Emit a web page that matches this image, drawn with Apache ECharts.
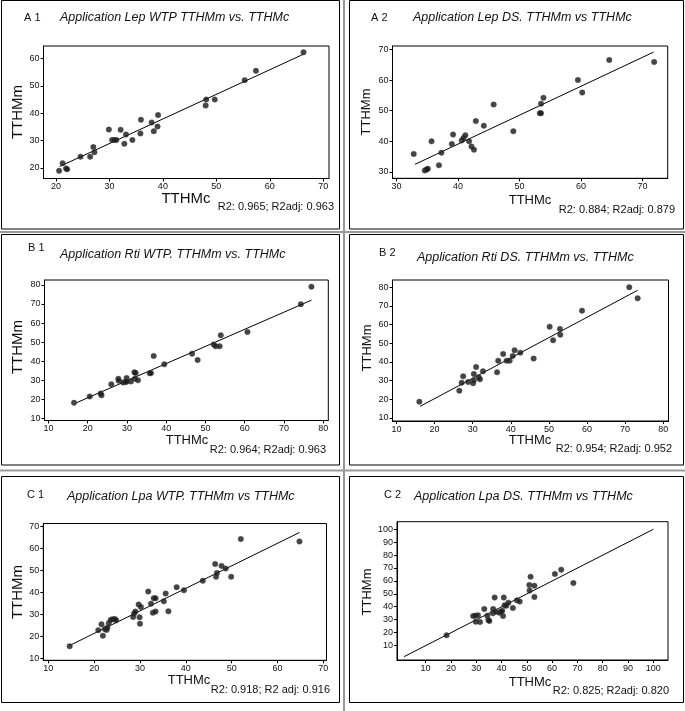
<!DOCTYPE html>
<html>
<head>
<meta charset="utf-8">
<script src="https://cdn.jsdelivr.net/npm/echarts@6/dist/echarts.min.js"></script>
<style>
html,body{margin:0;padding:0;background:#fff;}
#chart{width:685px;height:711px;}
</style>
</head>
<body>
<div id="chart"></div>
<script>
// ---------- DATA ----------
const panelLabels = ['A 1','A 2','B 1','B 2','C 1','C 2'];
const panelTitles = [
  'Application Lep WTP TTHMm vs. TTHMc',
  'Application Lep DS. TTHMm vs TTHMc',
  'Application Rti WTP. TTHMm vs. TTHMc',
  'Application Rti DS. TTHMm vs. TTHMc',
  'Application Lpa WTP. TTHMm vs TTHMc',
  'Application Lpa DS. TTHMm vs TTHMc'
];
const fitTexts = [
  'R2: 0.965; R2adj: 0.963',
  'R2: 0.884; R2adj: 0.879',
  'R2: 0.964; R2adj: 0.963',
  'R2: 0.954; R2adj: 0.952',
  'R2: 0.918; R2 adj: 0.916',
  'R2: 0.825; R2adj: 0.820'
];
const xAxisName = 'TTHMc';
const yAxisName = 'TTHMm';

const a1Points = [[20.6,18.9],[21.25,21.7],[21.9,19.8],[22.1,19.5],[24.6,24.1],[26.4,24.1],[27.0,27.6],[27.2,25.7],
  [29.9,34.0],[30.5,30.2],[30.9,30.2],[31.3,30.2],[32.1,33.9],[32.8,28.8],[33.1,32.2],[34.3,30.2],[35.8,32.6],
  [35.9,37.6],[37.9,36.6],[38.3,33.4],[39.0,35.1],[39.1,39.3],[48.0,42.8],[48.1,45.0],[49.7,45.0],[55.3,52.1],
  [57.4,55.5],[66.3,62.3]];
const a1Fit = [[20.7,20.5],[66.3,61.6]];
const a1XTicks = [20,30,40,50,60,70];
const a1YTicks = [20,30,40,50,60];

const a2Points = [[32.8,35.9],[34.6,30.5],[34.9,30.8],[35.1,31.1],[35.7,40.0],[36.9,32.2],[37.3,36.3],[39.0,39.1],
  [39.2,42.2],[40.6,40.3],[40.9,41.1],[41.2,42.0],[41.8,40.0],[42.2,38.3],[42.6,37.3],[42.9,46.6],[44.2,45.1],
  [45.8,52.0],[49.0,43.3],[53.3,49.2],[53.5,49.2],[53.5,52.3],[53.9,54.2],[59.5,60.0],[60.2,55.9],[64.6,66.5],
  [71.9,65.9]];
const a2Fit = [[33.0,32.5],[71.8,69.1]];
const a2XTicks = [30,40,50,60,70];
const a2YTicks = [30,40,50,60,70];

const b1Points = [[16.5,18.1],[20.5,21.4],[23.3,23.0],[23.5,22.0],[26.0,27.8],[27.8,30.7],[27.9,29.7],[29.0,28.8],
  [29.6,29.0],[29.9,31.1],[29.9,29.2],[31.0,29.3],[31.9,34.1],[32.2,33.7],[32.0,30.7],[32.8,29.9],[35.8,33.6],
  [36.1,33.7],[36.8,42.7],[39.5,38.3],[46.6,43.9],[48.0,40.6],[52.1,48.7],[52.6,47.8],[53.6,47.8],[53.9,53.6],
  [60.7,55.3],[74.3,69.9],[77.0,79.1]];
const b1Fit = [[17.1,18.1],[77.0,72.0]];
const b1XTicks = [10,20,30,40,50,60,70,80];
const b1YTicks = [10,20,30,40,50,60,70,80];

const b2Points = [[16.0,18.75],[26.5,24.6],[27.1,28.9],[27.5,32.3],[28.8,29.3],[30.1,28.6],[30.3,33.6],[30.3,30.2],
  [30.9,37.3],[31.6,31.8],[31.9,30.7],[32.7,35.0],[36.4,34.5],[36.7,40.7],[38.0,44.3],[38.9,40.7],[39.7,40.7],
  [40.5,43.2],[41.0,46.25],[42.5,45.0],[46.0,41.8],[50.2,58.9],[51.1,51.6],[52.9,57.7],[53.0,54.6],[58.7,67.5],
  [71.1,80.0],[73.3,74.1]];
const b2Fit = [[16.2,16.25],[73.3,78.4]];
const b2XTicks = [10,20,30,40,50,60,70,80];
const b2YTicks = [10,20,30,40,50,60,70,80];

const c1Points = [[14.65,15.5],[20.9,22.8],[21.6,25.5],[21.9,20.3],[22.3,23.4],[22.7,22.9],[22.9,24.0],[23.2,26.1],
  [23.6,27.5],[24.0,27.8],[24.5,27.9],[24.8,27.3],[28.5,28.8],[28.7,30.4],[29.0,31.3],[29.7,34.5],[29.9,28.7],
  [30.0,25.8],[30.2,33.4],[31.8,40.4],[32.4,34.9],[32.8,30.8],[33.0,37.4],[33.4,37.4],[33.4,31.3],[35.2,36.0],
  [35.6,39.5],[36.2,31.4],[38.0,42.4],[39.6,41.0],[43.7,45.3],[46.4,52.9],[46.6,47.1],[46.8,48.9],[47.8,52.1],
  [48.7,50.9],[49.9,47.1],[52.0,64.3],[64.8,63.2]];
const c1Fit = [[14.7,15.9],[64.8,67.3]];
const c1XTicks = [10,20,30,40,50,60,70];
const c1YTicks = [10,20,30,40,50,60,70];

const c2Points = [[18.3,17.75],[28.8,32.7],[29.6,33.0],[29.8,28.3],[30.7,33.3],[31.5,28.1],[33.2,38.2],[34.4,33.0],
  [34.8,29.6],[35.2,28.9],[36.6,34.8],[36.7,38.2],[37.3,47.0],[37.8,36.1],[39.1,35.3],[39.8,36.1],[40.3,36.9],
  [40.6,32.7],[40.9,47.0],[41.2,41.0],[41.9,40.7],[42.7,43.1],[44.5,38.9],[46.1,44.9],[47.2,43.9],[51.0,56.8],
  [51.1,52.6],[51.5,63.2],[53.0,56.25],[53.0,47.5],[61.1,65.3],[63.6,68.7],[68.4,58.3]];
const c2Fit = [[1.5,1.2],[100,100]];
const c2XTicks = [10,20,30,40,50,60,70,80,90,100];
const c2YTicks = [10,20,30,40,50,60,70,80,90,100];

// ---------- LAYOUT ----------
const panels = [
  {pts:a1Points, fit:a1Fit, xt:a1XTicks, yt:a1YTicks, grid:[43.5,46,285.5,132.5], x:[17.68,71.06], y:[16.1,64.6],
   frame:[1.5,0.5,338,228.5], lab:[24,18], title:[60,18], xn:[186,199,15], yn:[18,112,15], r2:[334,207]},
  {pts:a2Points, fit:a2Fit, xt:a2XTicks, yt:a2YTicks, grid:[392.5,46,275.2,132.3], x:[29.35,74.1], y:[27.95,71.1],
   frame:[349.5,0.5,334,228.5], lab:[371,18], title:[413,18], xn:[530,200,13], yn:[366,112,13], r2:[675,210]},
  {pts:b1Points, fit:b1Fit, xt:b1XTicks, yt:b1YTicks, grid:[44.5,280,283.8,140.5], x:[8.98,81.3], y:[8.8,82.6],
   frame:[1.5,234.5,338,230.5], lab:[28,248], title:[60,255], xn:[187,440,13], yn:[18,347,15], r2:[326,450]},
  {pts:b2Points, fit:b2Fit, xt:b2XTicks, yt:b2YTicks, grid:[392.5,280,276,141], x:[8.95,81.4], y:[8.4,83.9],
   frame:[349.5,234.5,334,230.5], lab:[379,253], title:[417,258], xn:[530,440,13], yn:[367,348,13], r2:[672,449]},
  {pts:c1Points, fit:c1Fit, xt:c1XTicks, yt:c1YTicks, grid:[43.3,523.5,283.2,136.8], x:[8.9,70.7], y:[9.1,71.4],
   frame:[1.5,476.5,338,226], lab:[27,495], title:[67,497], xn:[189,680,13], yn:[18,592,15], r2:[330,690]},
  {pts:c2Points, fit:c2Fit, xt:c2XTicks, yt:c2YTicks, grid:[397,521.7,271,138.3], x:[-1.3,105.8], y:[-1.4,105.9],
   frame:[349.5,476.5,334,226], lab:[384,495], title:[414,497], xn:[530,682,13], yn:[367,592,13], r2:[669,691]}
];

const FONT = 'Liberation Sans';
const grids = [], xAxes = [], yAxes = [], series = [], graphics = [];

function axisCommon(ticks){
  return {
    type:'value',
    axisLine:{show:true, onZero:false, lineStyle:{color:'#000', width:1}},
    axisTick:{show:true, inside:false, length:3, lineStyle:{color:'#000'}, customValues:ticks},
    axisLabel:{show:true, customValues:ticks, color:'#111', fontSize:9, fontFamily:FONT, margin:4},
    splitLine:{show:false}
  };
}

panels.forEach((p,i)=>{
  grids.push({left:p.grid[0], top:p.grid[1], width:p.grid[2], height:p.grid[3], show:true,
    borderColor:'#000', borderWidth:1, backgroundColor:'transparent', containLabel:false, outerBoundsMode:'none'});
  xAxes.push(Object.assign(axisCommon(p.xt), {gridIndex:i, min:p.x[0], max:p.x[1]}));
  yAxes.push(Object.assign(axisCommon(p.yt), {gridIndex:i, min:p.y[0], max:p.y[1]}));
  series.push({type:'scatter', xAxisIndex:i, yAxisIndex:i, data:p.pts, symbol:'circle', symbolSize:5.5,
    itemStyle:{color:'#161616', borderColor:'#444', borderWidth:0.5}, silent:true, z:3});
  series.push({type:'line', xAxisIndex:i, yAxisIndex:i, data:p.fit, showSymbol:false, symbol:'none',
    lineStyle:{color:'#000', width:1}, silent:true, z:2});
  graphics.push({type:'rect', shape:{x:p.frame[0], y:p.frame[1], width:p.frame[2], height:p.frame[3]},
    style:{fill:'none', stroke:'#000', lineWidth:1}, silent:true});
  graphics.push({type:'text', x:p.lab[0], y:p.lab[1], style:{text:panelLabels[i], fill:'#111',
    font:'11px "'+FONT+'"', textVerticalAlign:'middle', textAlign:'left'}, silent:true});
  graphics.push({type:'text', x:p.title[0], y:p.title[1], style:{text:panelTitles[i], fill:'#111',
    font:'italic 12.5px "'+FONT+'"', textVerticalAlign:'middle', textAlign:'left'}, silent:true});
  graphics.push({type:'text', x:p.xn[0], y:p.xn[1], style:{text:xAxisName, fill:'#111',
    font:p.xn[2]+'px "'+FONT+'"', textVerticalAlign:'middle', textAlign:'center'}, silent:true});
  graphics.push({type:'text', x:p.yn[0], y:p.yn[1], rotation:Math.PI/2, style:{text:yAxisName, fill:'#111',
    font:p.yn[2]+'px "'+FONT+'"', textVerticalAlign:'middle', textAlign:'center'}, silent:true});
  graphics.push({type:'text', x:p.r2[0], y:p.r2[1], style:{text:fitTexts[i], fill:'#111',
    font:'11px "'+FONT+'"', textVerticalAlign:'middle', textAlign:'right'}, silent:true});
});
// gray separator lines between panels
graphics.push({type:'line', shape:{x1:344, y1:0, x2:344, y2:711}, style:{stroke:'#999', lineWidth:2}, silent:true});
graphics.push({type:'line', shape:{x1:0, y1:232, x2:685, y2:232}, style:{stroke:'#999', lineWidth:2}, silent:true});
graphics.push({type:'line', shape:{x1:0, y1:470.5, x2:685, y2:470.5}, style:{stroke:'#999', lineWidth:2}, silent:true});

const chart = echarts.init(document.getElementById('chart'), null, {renderer:'canvas'});
chart.setOption({
  animation:false,
  backgroundColor:'#fff',
  grid:grids, xAxis:xAxes, yAxis:yAxes, series:series,
  graphic:{elements:graphics}
});
</script>
</body>
</html>
